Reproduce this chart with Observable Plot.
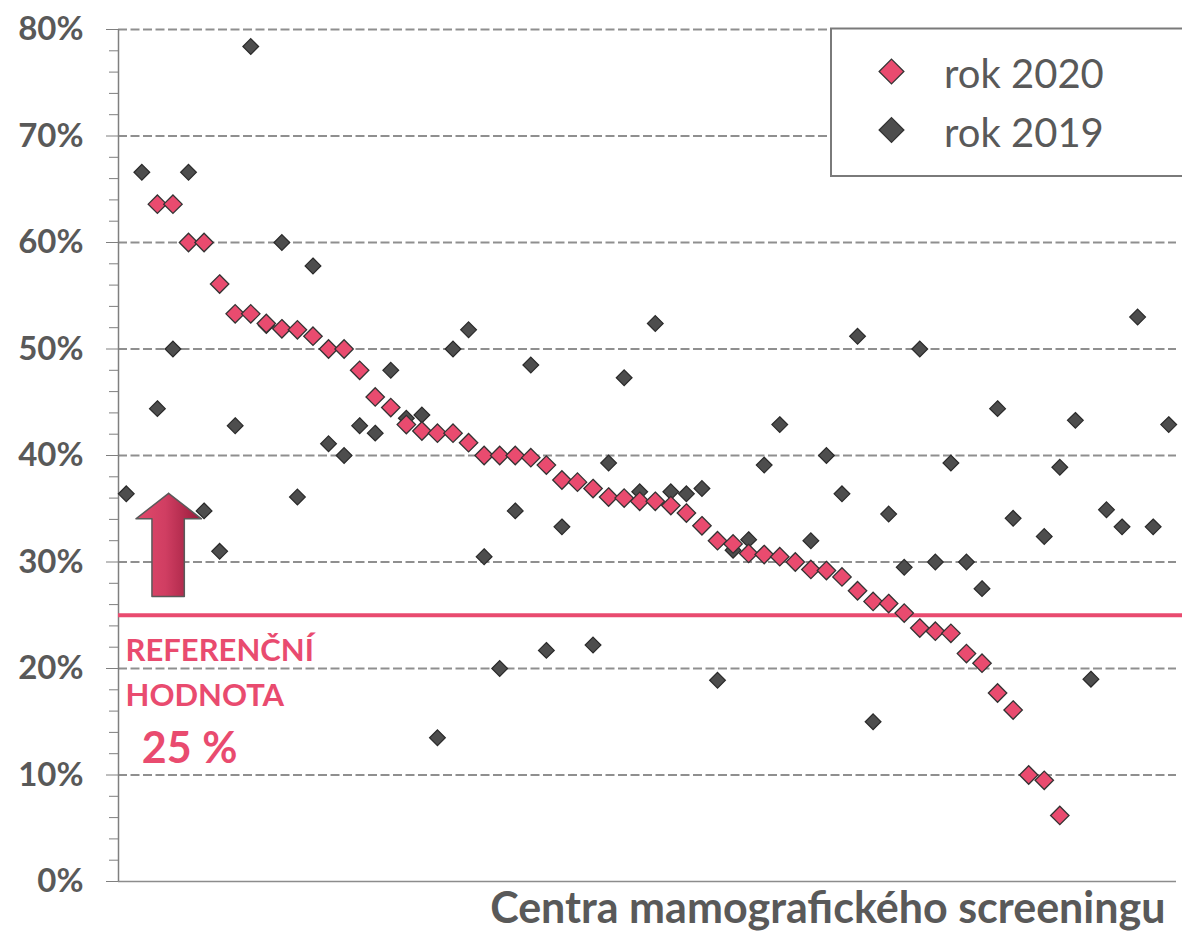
<!DOCTYPE html>
<html>
<head>
<meta charset="utf-8">
<script src="https://cdn.jsdelivr.net/npm/d3@7"></script>
<script src="https://cdn.jsdelivr.net/npm/@observablehq/plot@0.6"></script>
<style>
  body { margin: 0; background: #fff; }
  svg { overflow: visible; }
</style>
</head>
<body>
<div id="chart"></div>
<script>
// ---- data ----
const seriesNames = ["rok 2020", "rok 2019"];
const rok2020 = [
  null, null, 63.6, 63.6, 60.0, 60.0, 56.1, 53.3, 53.3, 52.4,
  51.9, 51.8, 51.2, 50.0, 50.0, 48.0, 45.5, 44.5, 42.9, 42.3,
  42.1, 42.1, 41.2, 40.0, 40.0, 40.0, 39.8, 39.1, 37.7, 37.5,
  36.9, 36.1, 36.0, 35.7, 35.7, 35.3, 34.6, 33.4, 32.0, 31.7,
  30.8, 30.7, 30.5, 30.0, 29.3, 29.2, 28.6, 27.3, 26.3, 26.1,
  25.2, 23.8, 23.5, 23.3, 21.4, 20.5, 17.7, 16.1, 10.0, 9.5,
  6.2, null, null, null, null, null, null, null
];
const rok2019 = [
  36.4, 66.6, 44.4, 50.0, 66.6, 34.8, 31.0, 42.8, 78.4, 52.2,
  60.0, 36.1, 57.8, 41.1, 40.0, 42.8, 42.1, 48.0, 43.5, 43.8,
  13.5, 50.0, 51.8, 30.5, 20.0, 34.8, 48.5, 21.7, 33.3, null,
  22.2, 39.3, 47.3, 36.6, 52.4, 36.6, 36.4, 36.9, 18.9, 31.1,
  32.1, 39.1, 42.9, null, 32.0, 40.0, 36.4, 51.2, 15.0, 34.5,
  29.5, 50.0, 30.0, 39.3, 30.0, 27.5, 44.4, 34.1, null, 32.4,
  38.9, 43.3, 19.0, 34.9, 33.3, 53.0, 33.3, 42.9
];
const centra = rok2019.map((_, i) => i + 1); // centre categories (1..68)
const yTicks = [0, 10, 20, 30, 40, 50, 60, 70, 80];
const yMinorTicks = [2,4,6,8,12,14,16,18,22,24,26,28,32,34,36,38,42,44,46,48,52,54,56,58,62,64,66,68,72,74,76,78];
const referenceValue = 25;
const refLabelLines = ["REFERENČNÍ", "HODNOTA"];
const refValueLabel = "25 %";
const xTitle = "Centra mamografického screeningu";

// ---- build tables ----
const d2020 = centra.map((c, i) => ({c: i, v: rok2020[i]}));
const d2019 = centra.map((c, i) => ({c: i, v: rok2019[i]}));
const n = centra.length;

const pink = "#E94B6F";
const dark = "#4D4D4D";
const textGray = "#595959";

// reference arrow (in data units: category index, percent)
const arrowPts = [
  {x: 2.72, y: 36.45}, {x: 4.83, y: 34.05}, {x: 3.73, y: 34.05}, {x: 3.73, y: 26.75},
  {x: 1.65, y: 26.75}, {x: 1.65, y: 34.05}, {x: 0.62, y: 34.05}, {x: 2.72, y: 36.45}
];

const chart = Plot.plot({
  width: 1182,
  height: 933,
  marginLeft: 118,
  marginRight: 6,
  marginTop: 29,
  marginBottom: 52,
  style: {fontFamily: "Lato, sans-serif", background: "white", overflow: "visible"},
  x: {domain: [-0.5, n - 0.5], axis: null},
  y: {domain: [0, 80], axis: null},
  marks: [
    Plot.gridY(yTicks.filter(d => d > 0), {stroke: "#8f8f8f", strokeOpacity: 1, strokeWidth: 2.2, strokeDasharray: "9,3.5"}),
    Plot.ruleY([0], {stroke: "#8c8c8c", strokeWidth: 1.5}),
    Plot.axisY(yMinorTicks, {tickSize: 9, tickFormat: () => "", stroke: "#7f7f7f", label: null}),
    Plot.axisY(yTicks, {tickSize: 12, tickFormat: () => "", stroke: "#7f7f7f", label: null}),
    Plot.axisY(yTicks, {tickSize: 0, tickPadding: 35, tickFormat: d => d + "%", fill: textGray, fontSize: 33, fontWeight: "bold", label: null}),
    Plot.ruleX([-0.5], {stroke: "#7f7f7f", strokeWidth: 1.5}),
    Plot.line(arrowPts, {x: "x", y: "y", fill: "url(#arrowGrad)", stroke: "#5a5a5a", strokeWidth: 1.5, curve: "linear"}),
    Plot.ruleY([referenceValue], {x1: -0.5, x2: n - 0.1, stroke: pink, strokeWidth: 4}),
    Plot.dot(d2019, {x: "c", y: "v", symbol: "diamond2", r: 7.1, fill: dark, stroke: "#2a2a2a", strokeWidth: 1.2}),
    Plot.dot(d2020, {x: "c", y: "v", symbol: "diamond2", r: 8.3, fill: pink, stroke: "#333", strokeWidth: 1.3}),
    Plot.text([refLabelLines[0]], {x: -0.05, y: 21.6, text: d => d, textAnchor: "start", fill: pink, fontSize: 31, fontWeight: "bold"}),
    Plot.text([refLabelLines[1]], {x: -0.05, y: 17.45, text: d => d, textAnchor: "start", fill: pink, fontSize: 31, fontWeight: "bold"}),
    Plot.text([refValueLabel], {x: 1.0, y: 12.4, text: d => d, textAnchor: "start", fill: pink, fontSize: 43, fontWeight: "bold"}),
    Plot.text([xTitle], {frameAnchor: "bottom-right", lineAnchor: "middle", text: d => d, textAnchor: "end", dx: -11, dy: 28, fill: textGray, fontSize: 43, fontWeight: "bold"})
  ]
});

const svg = d3.select(chart);
const defs = svg.insert("defs", ":first-child");
const grad = defs.append("linearGradient").attr("id", "arrowGrad").attr("x1", "0%").attr("x2", "100%").attr("y1", "0%").attr("y2", "0%");
grad.append("stop").attr("offset", "0%").attr("stop-color", "#E24A6C");
grad.append("stop").attr("offset", "45%").attr("stop-color", "#D03E62");
grad.append("stop").attr("offset", "100%").attr("stop-color", "#961A3A");

// legend box
const lg = svg.append("g").attr("class", "legend").attr("text-anchor", "start");
lg.append("rect").attr("x", 831).attr("y", 28.5).attr("width", 420).attr("height", 147.5)
  .attr("fill", "white").attr("stroke", "#7a7a7a").attr("stroke-width", 2);
const legendColors = [pink, dark];
const diamond = d3.symbol(d3.symbolDiamond2, 390);
seriesNames.forEach((name, k) => {
  const cy = 71.5 + k * 58.5;
  lg.append("path").attr("d", diamond()).attr("transform", `translate(891.5,${cy})`)
    .attr("fill", legendColors[k]).attr("stroke", "#333").attr("stroke-width", 1.3);
  lg.append("text").attr("x", 944).attr("y", cy + 16.5).text(name)
    .attr("text-anchor", "start")
    .attr("fill", textGray).attr("font-size", 40).attr("font-family", "Lato, sans-serif");
});

document.getElementById("chart").appendChild(chart);
</script>
</body>
</html>
